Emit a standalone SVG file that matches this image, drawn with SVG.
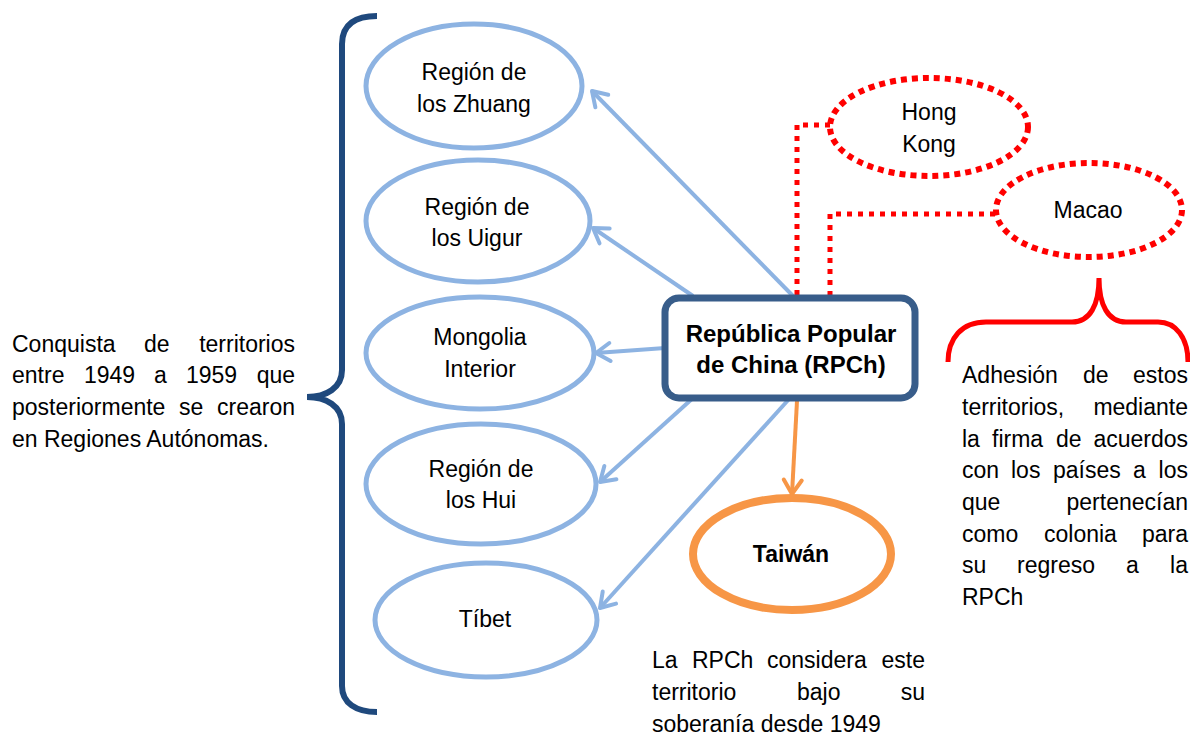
<svg xmlns="http://www.w3.org/2000/svg" width="1190" height="737" viewBox="0 0 1190 737">
<style>
text{font-family:"Liberation Sans",Arial,sans-serif;font-size:23px;fill:#000}
.b{font-weight:bold}
.c{text-anchor:middle}
.e{text-anchor:end}
.blue{fill:#fff;stroke:#8db3e2;stroke-width:5}
.red{fill:#fff;stroke:#ff0000;stroke-width:6;stroke-dasharray:6 5}
.arr{fill:none;stroke:#8db3e2;stroke-width:4}
.dot{fill:none;stroke:#ff0000;stroke-width:5;stroke-dasharray:5 6}
</style>
<defs>
<marker id="mb" viewBox="-18 -12 22 24" markerWidth="22" markerHeight="24" refX="0" refY="0" markerUnits="userSpaceOnUse" orient="auto">
<path d="M-14,-9 L0,0 L-14,9" fill="none" stroke="#8db3e2" stroke-width="4" stroke-linecap="round" stroke-linejoin="round"/>
</marker>
<marker id="mo" viewBox="-18 -12 22 24" markerWidth="22" markerHeight="24" refX="0" refY="0" markerUnits="userSpaceOnUse" orient="auto">
<path d="M-14,-9 L0,0 L-14,9" fill="none" stroke="#f79646" stroke-width="4" stroke-linecap="round" stroke-linejoin="round"/>
</marker>
</defs>
<rect width="1190" height="737" fill="#fff"/>

<!-- left brace -->
<path d="M377,16 C356,16 342,24 342,44 L342,370 C342,388 326,397 307,397 C326,397 342,406 342,424 L342,686 C342,703 356,712 377,712" fill="none" stroke="#1f497d" stroke-width="6"/>
<!-- red brace -->
<path d="M948,362 C948,338 962,322 986,322 L1072,322 C1090,322 1099,305 1099,278 C1099,305 1108,322 1126,322 L1158,322 C1176,322 1188,338 1188,362" fill="none" stroke="#ff0000" stroke-width="5"/>

<g id="connectors">
<line class="arr" x1="793" y1="296" x2="592" y2="91" marker-end="url(#mb)"/>
<line class="arr" x1="693" y1="296" x2="593" y2="228" marker-end="url(#mb)"/>
<line class="arr" x1="665" y1="348" x2="596" y2="353" marker-end="url(#mb)"/>
<line class="arr" x1="693" y1="398" x2="600" y2="482" marker-end="url(#mb)"/>
<line class="arr" x1="790" y1="398" x2="600" y2="608" marker-end="url(#mb)"/>
<line x1="797" y1="401" x2="792" y2="494" fill="none" stroke="#f79646" stroke-width="4" marker-end="url(#mo)"/>
<path class="dot" d="M830,125 L797,125 L797,296"/>
<path class="dot" d="M995,214 L830,214 L830,296"/>
</g>

<g id="zhuang">
<ellipse class="blue" cx="474" cy="86" rx="108" ry="62"/>
<text class="c" x="474" y="80">Región de</text>
<text class="c" x="474" y="112">los Zhuang</text>
</g>
<g id="uigur">
<ellipse class="blue" cx="478" cy="221" rx="112" ry="61"/>
<text class="c" x="477" y="215">Región de</text>
<text class="c" x="477" y="246">los Uigur</text>
</g>
<g id="mongolia">
<ellipse class="blue" cx="480" cy="353" rx="114" ry="56"/>
<text class="c" x="480" y="345">Mongolia</text>
<text class="c" x="480" y="377">Interior</text>
</g>
<g id="hui">
<ellipse class="blue" cx="481" cy="484" rx="115" ry="60"/>
<text class="c" x="481" y="477">Región de</text>
<text class="c" x="481" y="508">los Hui</text>
</g>
<g id="tibet">
<ellipse class="blue" cx="486" cy="620" rx="111" ry="57"/>
<text class="c" x="485" y="627">Tíbet</text>
</g>

<g id="rpch">
<rect x="665" y="298" width="250" height="100" rx="14" fill="#fff" stroke="#385d8a" stroke-width="7"/>
<text class="c b" x="791" y="342" style="font-size:24px">República Popular</text>
<text class="c b" x="791" y="373" style="font-size:24px">de China (RPCh)</text>
</g>

<g id="hongkong">
<ellipse class="red" cx="929" cy="127" rx="99" ry="49"/>
<text class="c" x="929" y="120">Hong</text>
<text class="c" x="929" y="152">Kong</text>
</g>
<g id="macao">
<ellipse class="red" cx="1089" cy="210" rx="93" ry="47"/>
<text class="c" x="1088" y="218">Macao</text>
</g>

<g id="taiwan">
<ellipse cx="792" cy="554" rx="99" ry="56" fill="#fff" stroke="#f79646" stroke-width="8"/>
<text class="c b" x="791" y="562">Taiwán</text>
</g>

<g id="left-note">
<text x="12" y="352">Conquista</text><text x="144" y="352">de</text><text class="e" x="295" y="352">territorios</text>
<text x="12" y="383">entre</text><text x="84" y="383">1949</text><text x="154" y="383">a</text><text x="186" y="383">1959</text><text class="e" x="295" y="383">que</text>
<text x="12" y="415">posteriormente</text><text x="179" y="415">se</text><text class="e" x="295" y="415">crearon</text>
<text x="12" y="447">en Regiones Autónomas.</text>
</g>

<g id="right-note">
<text x="962" y="383">Adhesión</text><text x="1083" y="383">de</text><text class="e" x="1188" y="383">estos</text>
<text x="962" y="415">territorios,</text><text class="e" x="1188" y="415">mediante</text>
<text x="962" y="447">la</text><text x="992" y="447">firma</text><text x="1056" y="447">de</text><text class="e" x="1188" y="447">acuerdos</text>
<text x="962" y="478">con</text><text x="1011" y="478">los</text><text x="1053" y="478">países</text><text x="1133" y="478">a</text><text class="e" x="1188" y="478">los</text>
<text x="962" y="510">que</text><text class="e" x="1188" y="510">pertenecían</text>
<text x="962" y="542">como</text><text x="1044" y="542">colonia</text><text class="e" x="1188" y="542">para</text>
<text x="962" y="573">su</text><text x="1017" y="573">regreso</text><text x="1126" y="573">a</text><text class="e" x="1188" y="573">la</text>
<text x="962" y="605">RPCh</text>
</g>

<g id="taiwan-note">
<text x="652" y="668">La</text><text x="692" y="668">RPCh</text><text x="767" y="668">considera</text><text class="e" x="925" y="668">este</text>
<text x="652" y="700">territorio</text><text x="797" y="700">bajo</text><text class="e" x="925" y="700">su</text>
<text x="652" y="732">soberanía desde 1949</text>
</g>
</svg>
